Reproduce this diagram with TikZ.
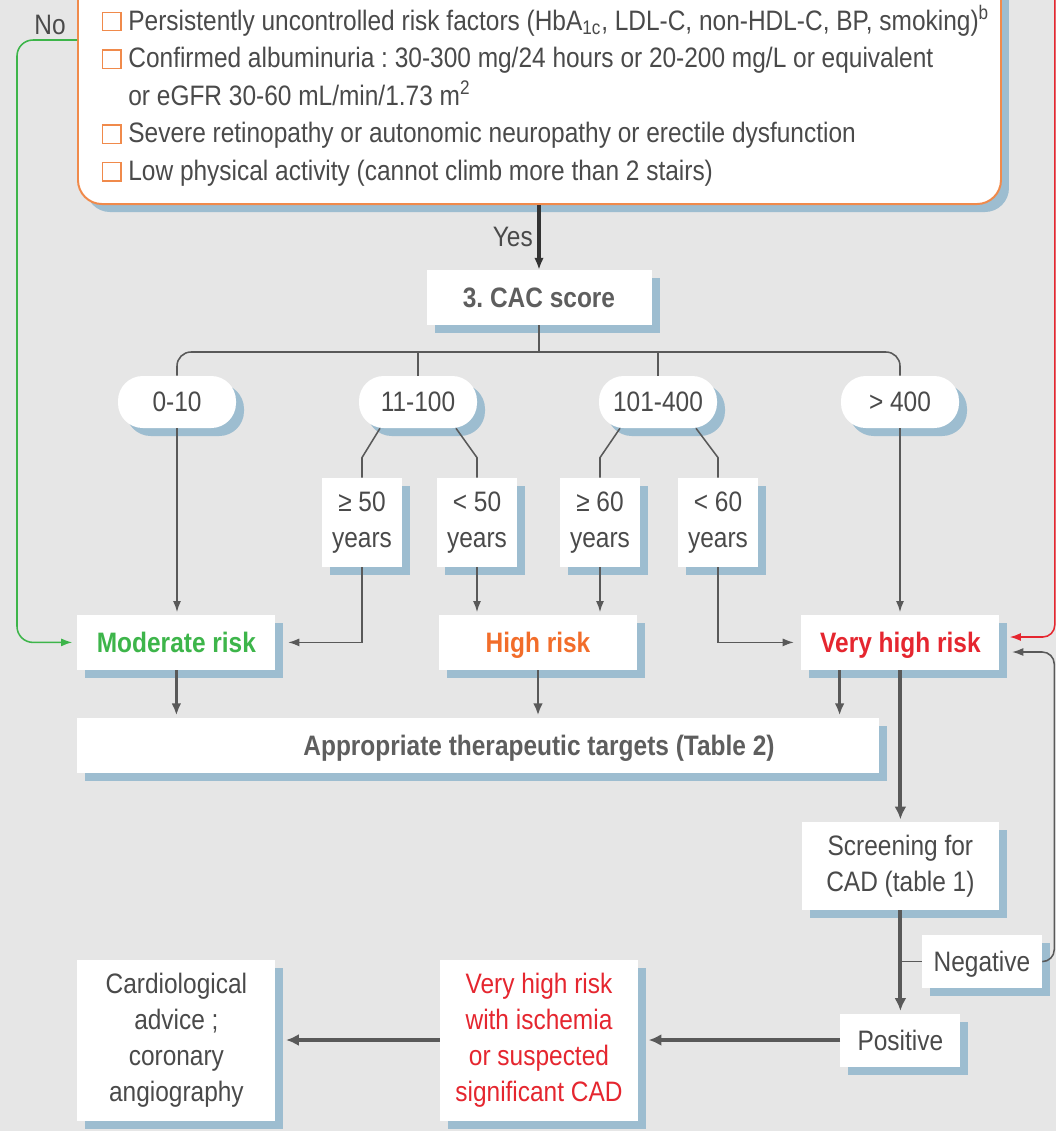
\documentclass[tikz,border=0pt]{standalone}
\usepackage{fontspec}
\setmainfont{Liberation Sans}[FakeStretch=0.87]
\usepackage{xcolor}
\usepackage{tikz}
\usetikzlibrary{shapes,arrows.meta,positioning,shadows}
\frenchspacing

\definecolor{bggray}{HTML}{E6E6E6}
\definecolor{shadowblue}{HTML}{9DBDD0}
\definecolor{critorange}{HTML}{F08A4B}
\definecolor{txtgray}{HTML}{4A4A4A}
\definecolor{labelgray}{HTML}{5E5E5E}
\definecolor{linegray}{HTML}{595959}
\definecolor{riskgreen}{HTML}{3DB54A}
\definecolor{riskorange}{HTML}{F26D2A}
\definecolor{riskred}{HTML}{E5262F}

\newcommand{\chkbox}{{\color{critorange}\setlength{\fboxsep}{0pt}\setlength{\fboxrule}{1pt}\fbox{\rule{0pt}{0.42cm}\hspace{0.42cm}}}\hspace{0.17cm}}
\newcommand{\critline}[1]{\makebox[21.875cm][l]{#1}}

\begin{document}
\begin{tikzpicture}
    % Define styles
    \tikzstyle{blueshadow} = [drop shadow={shadow xshift=0.2cm, shadow yshift=-0.2cm, fill=shadowblue, opacity=1}]
    \tikzstyle{plainbox} = [rectangle, fill=white, text=txtgray, align=center, inner sep=0pt, font=\fontsize{20}{25.6}\selectfont, blueshadow]
    \tikzstyle{critbox} = [rectangle, rounded corners=0.6cm, draw=critorange, line width=1.4pt, fill=white, text=txtgray, align=left, inner xsep=0.6cm, inner ysep=0.45cm, font=\fontsize{20}{26.7}\selectfont, blueshadow]
    \tikzstyle{scorebox} = [plainbox, minimum width=5.625cm, minimum height=1.375cm, text height=0.6cm, text depth=0.1cm, text=labelgray, font=\fontsize{20}{25.6}\selectfont\bfseries]
    \tikzstyle{pill} = [plainbox, rounded corners=0.62cm, minimum width=2.95cm, minimum height=1.3cm]
    \tikzstyle{agebox} = [plainbox, minimum width=2cm, minimum height=2.225cm]
    \tikzstyle{riskbox} = [plainbox, minimum width=4.95cm, minimum height=1.375cm, text height=0.6cm, text depth=0.1cm, font=\fontsize{20}{25.6}\selectfont\bfseries]
    \tikzstyle{targetbox} = [plainbox, minimum width=20.05cm, minimum height=1.375cm, text height=0.6cm, text depth=0.1cm, text=labelgray, font=\fontsize{20}{25.6}\selectfont\bfseries]
    \tikzstyle{resultbox} = [plainbox, minimum width=3cm, minimum height=1.325cm, text height=0.6cm, text depth=0.1cm]
    \tikzstyle{tallbox} = [plainbox, minimum width=4.95cm, minimum height=4.025cm]
    \tikzstyle{conn} = [draw=linegray, line width=1.1pt]
    \tikzstyle{connarrow} = [conn, -{Latex[length=0.28cm, width=0.2cm]}, shorten >=0.06cm]
    \tikzstyle{midconn} = [draw=linegray, line width=2pt, -{Latex[length=0.3cm, width=0.24cm]}, shorten >=0.06cm]
    \tikzstyle{bigconn} = [draw=linegray, line width=2.8pt, -{Latex[length=0.32cm, width=0.3cm]}, shorten >=0.06cm]
    \tikzstyle{yesconn} = [draw=black!80, line width=2.2pt, -{Latex[length=0.3cm, width=0.24cm]}]
    \tikzstyle{noconn} = [draw=riskgreen, line width=1.1pt, -{Latex[length=0.28cm, width=0.2cm]}, rounded corners=0.4cm]
    \tikzstyle{redconn} = [draw=riskred, line width=1.1pt, -{Latex[length=0.28cm, width=0.2cm]}, rounded corners=0.3cm]

    \useasboundingbox (0,0) rectangle (26.4,-28.275);
    \clip (0,0) rectangle (26.4,-28.275);
    \fill[bggray] (0,0) rectangle (26.4,-28.275);

    % Nodes
    \node[critbox, anchor=south west] (crit) at (1.925,-5.125) {%
        \critline{\chkbox Premature CAD in a first-degree relative (men < 55 years ; women < 65 years)}\\
        \critline{\chkbox Persistently uncontrolled risk factors (HbA\textsubscript{1c}, LDL-C, non-HDL-C, BP, smoking)\textsuperscript{b}}\\
        \critline{\chkbox Confirmed albuminuria : 30-300 mg/24 hours or 20-200 mg/L or equivalent}\\
        \critline{\phantom{\chkbox}or eGFR 30-60 mL/min/1.73 m\textsuperscript{2}}\\
        \critline{\chkbox Severe retinopathy or autonomic neuropathy or erectile dysfunction}\\
        \critline{\chkbox Low physical activity (cannot climb more than 2 stairs)}};
    \node[scorebox] (cac) at (13.475,-7.44) {3. CAC score};
    \coordinate (bus) at (13.475,-8.8);

    \node[pill] (p010) at (4.425,-10.05) {0-10};
    \node[pill] (p11) at (10.45,-10.05) {11-100};
    \node[pill] (p101) at (16.45,-10.05) {101-400};
    \node[pill] (p400) at (22.5,-10.05) {> 400};

    \node[agebox] (age50a) at (9.05,-13.06) {≥ 50\\years};
    \node[agebox] (age50b) at (11.925,-13.06) {< 50\\years};
    \node[agebox] (age60a) at (15.0,-13.06) {≥ 60\\years};
    \node[agebox] (age60b) at (17.95,-13.06) {< 60\\years};

    \node[riskbox, text=riskgreen] (moderate) at (4.41,-16.06) {Moderate risk};
    \node[riskbox, text=riskorange] (high) at (13.45,-16.06) {High risk};
    \node[riskbox, text=riskred] (vhr) at (22.51,-16.06) {Very high risk};

    \node[targetbox] (targets) at (11.95,-18.64) {\hspace*{3.05cm}Appropriate therapeutic targets (Table 2)};

    \node[plainbox, minimum width=4.925cm, minimum height=2.2cm] (screening) at (22.51,-21.65) {Screening for\\CAD (table 1)};
    \node[resultbox] (negative) at (24.55,-24.04) {Negative};
    \node[resultbox] (positive) at (22.51,-26.0) {Positive};
    \node[tallbox, text=riskred] (ischemia) at (13.475,-26.0) {Very high risk\\with ischemia\\or suspected\\significant CAD};
    \node[tallbox] (cardio) at (4.41,-26.0) {Cardiological\\advice ;\\coronary\\angiography};

    \coordinate (nostart) at (1.925,-1.0);
    \coordinate (redtop) at (26.37,0.3);
    \coordinate (vhrout) at ([xshift=-1.52cm]vhr.south);

    % Connections
    \draw[yesconn] (crit.south -| cac) -- node[left, text=txtgray, font=\fontsize{20}{25.6}\selectfont] (yeslabel) {Yes} (cac);
    \draw[noconn] (nostart) -- node[above, pos=0.45, text=txtgray, font=\fontsize{20}{25.6}\selectfont] (nolabel) {No} ++(-1.5,0) |- ([xshift=-0.12cm]moderate.west);

    \draw[conn, rounded corners=0.35cm] (p010.north) |- (bus) -| (p400.north);
    \draw[conn] (cac.south) -- (bus);
    \draw[conn] (p11.north) -- (p11.north |- bus);
    \draw[conn] (p101.north) -- (p101.north |- bus);

    \draw[conn] ([xshift=-0.95cm]p11.south) -- ([yshift=0.5cm]age50a.north) -- (age50a.north);
    \draw[conn] ([xshift=0.95cm]p11.south) -- ([yshift=0.5cm]age50b.north) -- (age50b.north);
    \draw[conn] ([xshift=-0.95cm]p101.south) -- ([yshift=0.5cm]age60a.north) -- (age60a.north);
    \draw[conn] ([xshift=0.95cm]p101.south) -- ([yshift=0.5cm]age60b.north) -- (age60b.north);

    \draw[connarrow] (p010.south) -- (p010.south |- moderate.north);
    \draw[connarrow] (age50a.south) |- ([xshift=0.25cm]moderate.east);
    \draw[connarrow] (age50b.south) -- (age50b.south |- high.north);
    \draw[connarrow] (age60a.south) -- (age60a.south |- high.north);
    \draw[connarrow] (age60b.south) |- ([xshift=-0.12cm]vhr.west);
    \draw[connarrow] (p400.south) -- (p400.south |- vhr.north);

    \draw[midconn] (moderate.south) -- (moderate.south |- targets.north);
    \draw[midconn] (high.south) -- (high.south |- targets.north);
    \draw[midconn] (vhrout) -- (vhrout |- targets.north);

    \draw[bigconn] (vhr.south) -- (screening.north);
    \draw[bigconn] (screening.south) -- (positive.north);
    \draw[conn] (negative.west) -- (negative.west -| screening.south);
    \draw[connarrow, rounded corners=0.3cm] (negative.east) -- ++(0.3,0) |- ([xshift=0.25cm, yshift=-0.24cm]vhr.east);
    \draw[redconn] (redtop) |- ([xshift=0.25cm, yshift=0.135cm]vhr.east);

    \draw[bigconn] (positive.west) -- ([xshift=0.2cm]ischemia.east);
    \draw[bigconn] (ischemia.west) -- ([xshift=0.2cm]cardio.east);
\end{tikzpicture}
\end{document}
